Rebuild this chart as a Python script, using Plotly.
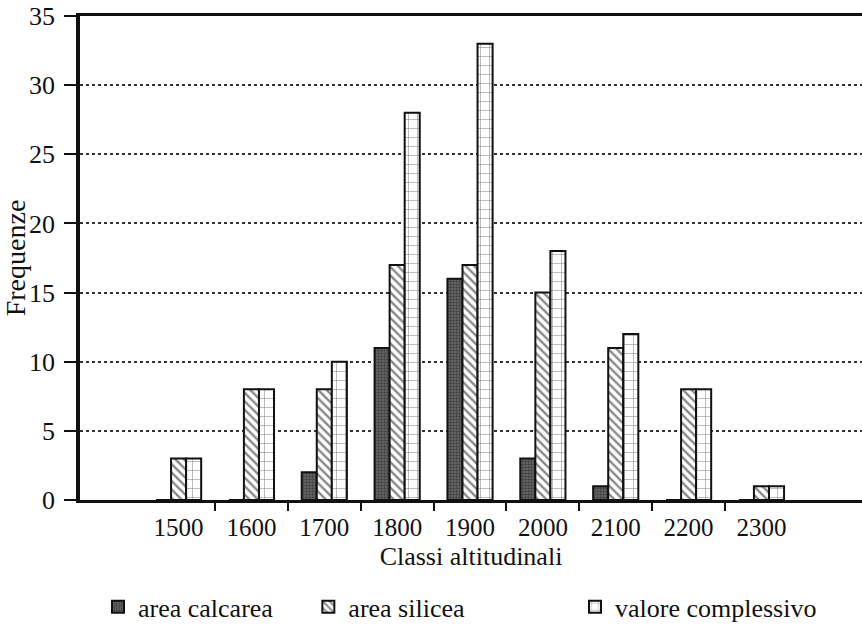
import plotly.graph_objects as go

categories = ["1500", "1600", "1700", "1800", "1900", "2000", "2100", "2200", "2300"]
area_calcarea = [0, 0, 2, 11, 16, 3, 1, 0, 0]
area_silicea = [3, 8, 8, 17, 17, 15, 11, 8, 1]
valore_complessivo = [3, 8, 10, 28, 33, 18, 12, 8, 1]
y_ticks = [0, 5, 10, 15, 20, 25, 30, 35]

xpos = list(range(len(categories)))
boundaries = [i + 0.5 for i in xpos[:-1]]

FONT = "Liberation Serif"
INK = "#111111"

fig = go.Figure()
fig.add_trace(go.Bar(
    x=xpos, y=area_calcarea, name="area calcarea", legend="legend",
    marker=dict(color="#4a4a4a", line=dict(color=INK, width=2),
                pattern=dict(shape=".", fgcolor="#1a1a1a", bgcolor="#6a6a6a",
                             size=3, solidity=0.5)),
))
fig.add_trace(go.Bar(
    x=xpos, y=area_silicea, name="area silicea", legend="legend2",
    marker=dict(color="white", line=dict(color=INK, width=2),
                pattern=dict(shape="\\", fgcolor=INK, bgcolor="white",
                             size=6, solidity=0.4)),
))
fig.add_trace(go.Bar(
    x=xpos, y=valore_complessivo, name="valore complessivo", legend="legend3",
    marker=dict(color="white", line=dict(color=INK, width=2),
                pattern=dict(shape="+", fgcolor=INK, bgcolor="white",
                             size=9, solidity=0.12)),
))

legend_common = dict(orientation="h", yanchor="middle", y=-0.221, xanchor="left",
                     font=dict(family=FONT, size=26, color=INK),
                     bgcolor="rgba(0,0,0,0)", itemwidth=30)

fig.update_layout(
    width=862, height=632,
    margin=dict(l=80, r=0, t=16, b=132, autoexpand=False),
    paper_bgcolor="white", plot_bgcolor="white",
    barmode="group", bargap=0.38, bargroupgap=0,
    font=dict(family=FONT, color=INK, size=24),
    showlegend=True,
    legend=dict(x=0.023, **legend_common),
    legend2=dict(x=0.292, **legend_common),
    legend3=dict(x=0.633, **legend_common),
    xaxis=dict(
        range=[-1.353, 9.38], automargin=False,
        tickmode="array", tickvals=xpos, ticktext=categories,
        ticks="outside", ticklen=1, tickcolor="rgba(0,0,0,0)",
        ticklabelstandoff=2,
        tickfont=dict(family=FONT, size=25, color=INK),
        minor=dict(tickmode="array", tickvals=boundaries, ticks="outside",
                   ticklen=8, tickwidth=1.5, tickcolor=INK, showgrid=False),
        showline=True, linecolor=INK, linewidth=2.5, mirror=True,
        showgrid=False, zeroline=False,
        title=dict(text="Classi altitudinali", standoff=8,
                   font=dict(family=FONT, size=26, color=INK)),
    ),
    yaxis=dict(
        range=[0, 35], automargin=False,
        tickmode="array", tickvals=y_ticks,
        ticks="outside", ticklen=12, tickwidth=1.5, tickcolor=INK,
        ticklabelstandoff=4,
        tickfont=dict(family=FONT, size=26, color=INK),
        showline=True, linecolor=INK, linewidth=3.5, mirror=False,
        showgrid=True, gridcolor="#333333", gridwidth=1.5, griddash="dot",
        zeroline=False,
        title=dict(text="Frequenze", standoff=3,
                   font=dict(family=FONT, size=28, color=INK)),
    ),
)

fig.write_html(
    "out.html",
    config={"displayModeBar": False},
    post_script="document.body.style.margin='0';document.body.style.overflow='hidden';",
)
